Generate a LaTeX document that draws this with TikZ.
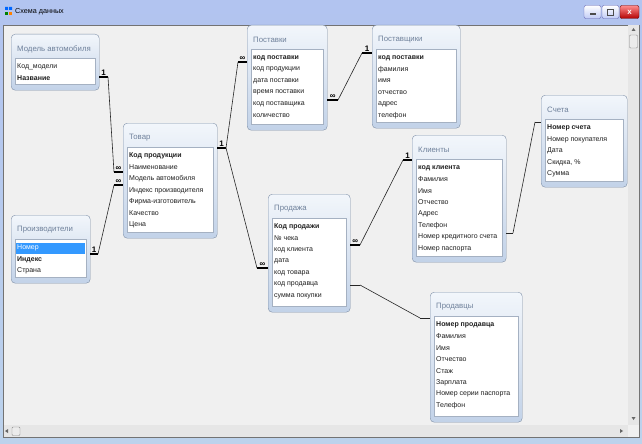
\documentclass[tikz,border=0pt]{standalone}
\usepackage{fontspec}
\setmainfont{Liberation Sans}
\usepackage{xcolor}
\usepackage{tikz}
\usetikzlibrary{calc}
\definecolor{frameblue}{HTML}{BCD2EC}
\definecolor{clientgray}{HTML}{F0F0F0}
\definecolor{boxline}{HTML}{7F90A8}
\definecolor{boxtop}{HTML}{F2F6FB}
\definecolor{boxbottom}{HTML}{C2D2E8}
\definecolor{titletext}{HTML}{6F819B}
\definecolor{listline}{HTML}{A5B1C2}
\definecolor{hlblue}{HTML}{3399FF}
\definecolor{trackgray}{HTML}{E6E6E6}
% table: [highlighted row] name, top left, width, height, title, rows
\newcommand\dbtable[7][0]{%
  \node[tbox,minimum width=#4,minimum height=#5] (#2) at (#3) {};
  \node[ttitle] (#2-title) at ($(#2.north west)+(6,15)$) {#6};
  \draw[tlist] ($(#2.north west)+(4,24.5)$) rectangle ($(#2.south east)+(-4,-6)$);
  \ifnum#1>0
    \fill[hlblue] ($(#2.north west)+(5,{27.5+11.5*(#1-1)})$) rectangle ($(#2.north east)+(-5,{38.5+11.5*(#1-1)})$);
  \fi
  \foreach \rowtext [count=\i] in {#7}
    \node[row] (#2-\i) at ($(#2.north west)+(5,{33+11.5*(\i-1)})$) {\rowtext};
}

\begin{document}
\begin{tikzpicture}[x=1pt,y=-1pt,
    tbox/.style={draw=boxline,rounded corners=4,top color=boxtop,bottom color=boxbottom,anchor=north west,inner sep=0},
    ttitle/.style={anchor=west,inner sep=0,text=titletext,font=\fontsize{7.8}{9}\selectfont},
    tlist/.style={fill=white,draw=listline,line width=0.5},
    row/.style={anchor=west,inner sep=1,text=black!88,font=\fontsize{7}{8}\selectfont},
    rel/.style={draw=black!85,line width=0.6},
    stub/.style={draw=black,line width=2},
    thinstub/.style={draw=black!85,line width=0.7},
    card/.style={above,inner sep=0.6,font=\bfseries\fontsize{8}{8}\selectfont},
    arrowtri/.style={fill=black!60}]
  \useasboundingbox (0,0) rectangle (642,444);

  % window
  \fill[top color=blue!10!frameblue!90!white,bottom color=frameblue] (0,0) rectangle (642,444);
  \fill[clientgray] (3,25) rectangle (639,437);
  \draw[black!55,line width=0.6] (3,25) rectangle (639,437);
  \fill[blue!60!cyan] (5,7) rectangle (8,10) (9,7) rectangle (12,10);
  \fill[green!50!black] (5,12) rectangle (8,15);
  \fill[orange] (9,12) rectangle (12,15);
  \node[anchor=west,inner sep=0,font=\fontsize{7.2}{8}\selectfont] (wintitle) at (15,12) {Схема данных};
  \node[draw=blue!50!black!60,rounded corners=2,top color=white,bottom color=frameblue!80!blue!60,minimum width=17,minimum height=13,inner sep=0] (btnmin) at (592.5,12) {};
  \node[draw=blue!50!black!60,rounded corners=2,top color=white,bottom color=frameblue!80!blue!60,minimum width=17,minimum height=13,inner sep=0] (btnmax) at (610.5,12) {};
  \node[draw=red!40!black,rounded corners=2,top color=red!45!white,bottom color=red!70!black,minimum width=19,minimum height=13,inner sep=0,text=white,font=\bfseries\fontsize{8}{8}\selectfont] (btnclose) at (629.5,12) {x};
  \fill[black!70] ($(btnmin.center)+(-3,1)$) rectangle ($(btnmin.center)+(3,3)$);
  \draw[black!70,line width=0.8] ($(btnmax.center)+(-3,-3)$) rectangle ($(btnmax.center)+(3,3)$);

  % scroll bars
  \fill[trackgray] (628,25.5) rectangle (638.5,425);
  \fill[trackgray] (3.5,425) rectangle (628,436.5);
  \draw[black!45,rounded corners=1,fill=black!8] (629.5,35) rectangle (637.5,48);
  \draw[black!45,rounded corners=1,fill=black!8] (12,427) rectangle (20,435.5);
  \fill[arrowtri] (631.5,31) -- (635.5,31) -- (633.5,28) -- cycle;
  \fill[arrowtri] (631.5,417) -- (635.5,417) -- (633.5,420) -- cycle;
  \fill[arrowtri] (8,429) -- (8,433) -- (5,431) -- cycle;
  \fill[arrowtri] (620,429) -- (620,433) -- (623,431) -- cycle;

  % tables
  \dbtable{model}{11,34}{88}{56}{Модель автомобиля}{Код\_модели,\textbf{Название}}
  \dbtable[1]{maker}{11,215}{79}{68}{Производители}{{\color{white}Номер},\textbf{Индекс},Страна}
  \dbtable{tovar}{123,123}{94}{115}{Товар}{\textbf{Код продукции},Наименование,Модель автомобиля,Индекс производителя,Фирма-изготовитель,Качество,Цена}
  \dbtable{postavki}{247,25}{80}{105}{Поставки}{\textbf{код поставки},код продукции,дата поставки,время поставки,код поставщика,количество}
  \dbtable{postavshiki}{372,25}{88}{103}{Поставщики}{\textbf{код поставки},фамилия,имя,отчество,адрес,телефон}
  \dbtable{scheta}{541,95}{86}{92}{Счета}{\textbf{Номер счета},Номер покупателя,Дата,{Скидка, \%},Сумма}
  \dbtable{klienty}{412,135}{94}{127}{Клиенты}{\textbf{код клиента},Фамилия,Имя,Отчество,Адрес,Телефон,Номер кредитного счета,Номер паспорта}
  \dbtable{prodazha}{268,194}{82}{118}{Продажа}{\textbf{Код продажи},№ чека,код клиента,дата,код товара,код продавца,сумма покупки}
  \dbtable{prodavcy}{430,292}{92}{130}{Продавцы}{\textbf{Номер продавца},Фамилия,Имя,Отчество,Стаж,Зарплата,Номер серии паспорта,Телефон}

  % relations
  \coordinate (m1) at (108,77);
  \coordinate (t1) at (114,172);
  \coordinate (p1) at (98,254);
  \coordinate (t2) at (114,185);
  \coordinate (t3) at (226,148);
  \coordinate (s1) at (238,62);
  \coordinate (s2) at (338,100);
  \coordinate (v1) at (362,53);
  \coordinate (d1) at (257,268);
  \coordinate (d2) at (360,245);
  \coordinate (k1) at (403,160);
  \coordinate (k2) at (513,233);
  \coordinate (c1) at (535,122);
  \coordinate (d3) at (360,285);
  \coordinate (e1) at (420,318);

  \draw[stub] (model.east |- m1) -- node[card]{1} (m1);
  \draw[rel] (m1) -- (t1);
  \draw[stub] (t1) -- node[card]{∞} (tovar.west |- t1);
  \draw[stub] (maker.east |- p1) -- node[card]{1} (p1);
  \draw[rel] (p1) -- (t2);
  \draw[stub] (t2) -- node[card]{∞} (tovar.west |- t2);

  \draw[stub] (tovar.east |- t3) -- node[card]{1} (t3);
  \draw[rel] (t3) -- (s1);
  \draw[stub] (s1) -- node[card]{∞} (postavki.west |- s1);
  \draw[rel] (t3) -- (d1);
  \draw[stub] (d1) -- node[card]{∞} (prodazha.west |- d1);

  \draw[stub] (postavki.east |- s2) -- node[card]{∞} (s2);
  \draw[rel] (s2) -- (v1);
  \draw[stub] (v1) -- node[card]{1} (postavshiki.west |- v1);

  \draw[stub] (prodazha.east |- d2) -- node[card]{∞} (d2);
  \draw[rel] (d2) -- (k1);
  \draw[stub] (k1) -- node[card]{1} (klienty.west |- k1);

  \draw[thinstub] (klienty.east |- k2) -- (k2);
  \draw[rel] (k2) -- (c1);
  \draw[thinstub] (c1) -- (scheta.west |- c1);

  \draw[thinstub] (prodazha.east |- d3) -- (d3);
  \draw[rel] (d3) -- (e1);
  \draw[thinstub] (e1) -- (prodavcy.west |- e1);
\end{tikzpicture}
\end{document}
